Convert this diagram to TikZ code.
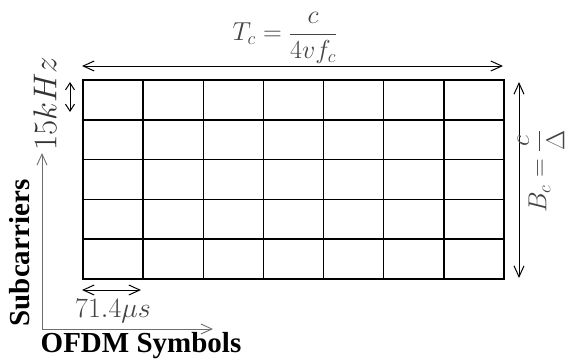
\RequirePackage{fix-cm}
\documentclass[tikz,border=0pt]{standalone}
\usepackage{fontspec}
\usepackage{amsmath}
\usetikzlibrary{arrows.meta}
\newfontfamily\captfont{Liberation Serif}
\definecolor{labelgray}{HTML}{444444}
\definecolor{axisgray}{HTML}{6E6E6E}

\begin{document}
\begin{tikzpicture}[x=1pt, y=-1pt, >={Straight Barb[length=11pt,width=10pt]},
    cell/.style={black, line width=1.5pt},
    span/.style={<->, line width=1pt},
    shortspan/.style={{Straight Barb[length=7pt,width=9pt]}-{Straight Barb[length=7pt,width=9pt]}, line width=1pt},
    axis/.style={->, axisgray, line width=0.9pt},
    mathlbl/.style={labelgray, inner sep=0pt},
    axislbl/.style={inner sep=0pt, font=\captfont\bfseries\fontsize{29}{33}\selectfont}]
  \useasboundingbox (0,0) rectangle (570,360);
  % resource grid: 7 symbols x 5 subcarriers
  \coordinate (gnw) at (83,80);
  \coordinate (gse) at (504,279);
  \draw[cell] (gnw) rectangle (gse);
  \foreach \c in {1,...,6}
    \draw[cell] (83+\c*60.14,80) -- (83+\c*60.14,279);
  \foreach \r in {1,...,4}
    \draw[cell] (83,80+\r*39.8) -- (504,80+\r*39.8);
  % coherence time across the top
  \coordinate (tcl) at (82,66);
  \coordinate (tcr) at (503,66);
  \draw[span] (tcl) -- (tcr);
  \node[mathlbl, font=\fontsize{26}{30}\selectfont] (tc) at (285,38) {$T_c = \dfrac{c}{4vf_c}$};
  % coherence bandwidth on the right
  \coordinate (bct) at (519,82);
  \coordinate (bcb) at (519,278);
  \draw[span] (bct) -- (bcb);
  \node[mathlbl, rotate=90, font=\fontsize{26}{30}\selectfont] (bc) at (541,171) {$B_c = \dfrac{c}{\Delta}$};
  % one subcarrier spacing
  \coordinate (sct) at (70,82);
  \coordinate (scb) at (70,112);
  \draw[shortspan] (sct) -- (scb);
  \node[mathlbl, black!80, rotate=90, font=\fontsize{33}{36}\selectfont] (khz) at (45,104) {$15kHz$};
  % one symbol duration
  \coordinate (syl) at (82,290);
  \coordinate (syr) at (141,290);
  \draw[span] (syl) -- (syr);
  \node[mathlbl, font=\fontsize{28}{32}\selectfont] (us) at (113,311) {$71.4\mu s$};
  % axes
  \coordinate (org) at (42,329);
  \coordinate (yend) at (42,153);
  \coordinate (xend) at (213,329);
  \draw[axis] (org) -- (yend);
  \draw[axis] (org) -- (xend);
  \node[axislbl, rotate=90] (sub) at (20,253) {Subcarriers};
  \node[axislbl] (ofdm) at (141,346) {OFDM Symbols};
\end{tikzpicture}
\end{document}
